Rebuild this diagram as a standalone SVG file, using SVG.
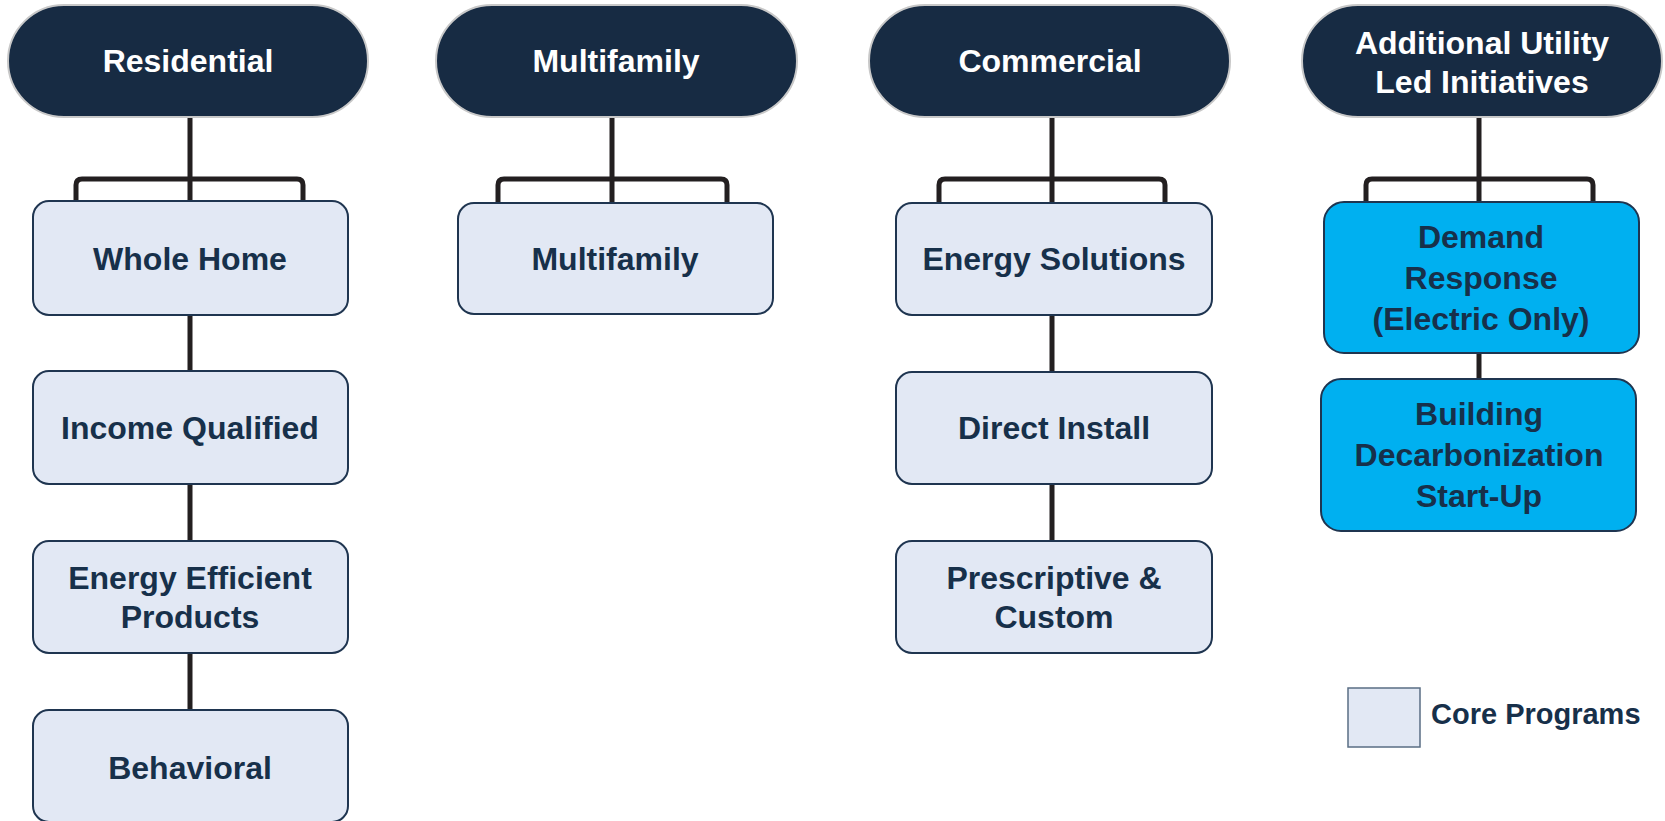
<svg xmlns="http://www.w3.org/2000/svg" width="1665" height="821" viewBox="0 0 1665 821">
<style>
.pill{fill:#172b43;stroke:#c8c8c8;stroke-width:2}
.box{fill:#e2e8f4;stroke:#1f3550;stroke-width:2}
.cyan{fill:#00b0f0;stroke:#1f3550;stroke-width:2}
.ht{font-family:"Liberation Sans",Arial,sans-serif;font-weight:bold;font-size:32px;fill:#ffffff;text-anchor:middle}
.bt{font-family:"Liberation Sans",Arial,sans-serif;font-weight:bold;font-size:32px;fill:#17304a;text-anchor:middle}
.conn{fill:none;stroke:#231f20;stroke-width:5;stroke-linejoin:round}
</style>
<rect width="1665" height="821" fill="#ffffff"/>
<g id="connectors">
<path class="conn" d="M190 117 V201 M76 201 V185 Q76 179 82 179 H297 Q303 179 303 185 V201"/>
<path class="conn" d="M190 315 V372 M190 484 V541 M190 653 V710"/>
<path class="conn" d="M612 117 V203 M498 203 V185 Q498 179 504 179 H721 Q727 179 727 185 V203"/>
<path class="conn" d="M1052 117 V203 M939 203 V185 Q939 179 945 179 H1159 Q1165 179 1165 185 V203"/>
<path class="conn" d="M1052 315 V372 M1052 484 V541"/>
<path class="conn" d="M1479 117 V202 M1366 202 V185 Q1366 179 1372 179 H1587 Q1593 179 1593 185 V202"/>
<path class="conn" d="M1479 353 V379"/>
</g>
<g id="residential">
<rect class="pill" x="8" y="5" width="360" height="112" rx="56"/>
<text class="ht" x="188" y="72">Residential</text>
</g>
<g id="whole-home">
<rect class="box" x="33" y="201" width="315" height="114" rx="16"/>
<text class="bt" x="190" y="270">Whole Home</text>
</g>
<g id="income-qualified">
<rect class="box" x="33" y="371" width="315" height="113" rx="16"/>
<text class="bt" x="190" y="439">Income Qualified</text>
</g>
<g id="energy-efficient-products">
<rect class="box" x="33" y="541" width="315" height="112" rx="16"/>
<text class="bt" x="190" y="589">Energy Efficient</text>
<text class="bt" x="190" y="628">Products</text>
</g>
<g id="behavioral">
<rect class="box" x="33" y="710" width="315" height="112" rx="16"/>
<text class="bt" x="190" y="779">Behavioral</text>
</g>
<g id="multifamily-head">
<rect class="pill" x="436" y="5" width="361" height="112" rx="56"/>
<text class="ht" x="616" y="72">Multifamily</text>
</g>
<g id="multifamily">
<rect class="box" x="458" y="203" width="315" height="111" rx="16"/>
<text class="bt" x="615" y="270">Multifamily</text>
</g>
<g id="commercial">
<rect class="pill" x="869" y="5" width="361" height="112" rx="56"/>
<text class="ht" x="1050" y="72">Commercial</text>
</g>
<g id="energy-solutions">
<rect class="box" x="896" y="203" width="316" height="112" rx="16"/>
<text class="bt" x="1054" y="270">Energy Solutions</text>
</g>
<g id="direct-install">
<rect class="box" x="896" y="372" width="316" height="112" rx="16"/>
<text class="bt" x="1054" y="439">Direct Install</text>
</g>
<g id="prescriptive-custom">
<rect class="box" x="896" y="541" width="316" height="112" rx="16"/>
<text class="bt" x="1054" y="589">Prescriptive &amp;</text>
<text class="bt" x="1054" y="628">Custom</text>
</g>
<g id="additional">
<rect class="pill" x="1302" y="5" width="360" height="112" rx="56"/>
<text class="ht" x="1482" y="54">Additional Utility</text>
<text class="ht" x="1482" y="93">Led Initiatives</text>
</g>
<g id="demand-response">
<rect class="cyan" x="1324" y="202" width="315" height="151" rx="20"/>
<text class="bt" x="1481" y="248">Demand</text>
<text class="bt" x="1481" y="289">Response</text>
<text class="bt" x="1481" y="330">(Electric Only)</text>
</g>
<g id="building-decarbonization">
<rect class="cyan" x="1321" y="379" width="315" height="152" rx="20"/>
<text class="bt" x="1479" y="425">Building</text>
<text class="bt" x="1479" y="466">Decarbonization</text>
<text class="bt" x="1479" y="507">Start-Up</text>
</g>
<g id="legend">
<rect x="1348" y="688" width="72" height="59" fill="#e2e8f4" stroke="#5a6e84" stroke-width="1.5"/>
<text x="1431" y="724" font-family="Liberation Sans, Arial, sans-serif" font-weight="bold" font-size="29" fill="#17304a">Core Programs</text>
</g>
</svg>
